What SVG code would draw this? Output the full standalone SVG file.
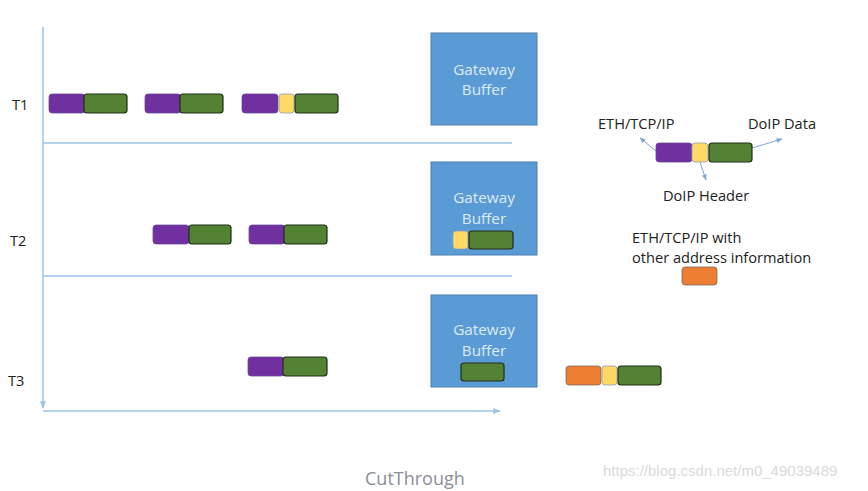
<svg xmlns="http://www.w3.org/2000/svg" width="868" height="491" viewBox="0 0 868 491">
<style>
text{font-family:"Open Sans","Noto Sans","Liberation Sans",sans-serif;}
.lbl{font-size:14.6px;fill:#222;}
.gw{font-size:15.3px;fill:#DDEBF7;text-anchor:middle;}
.box{fill:#5B9BD5;stroke:#4A7EB0;stroke-width:1;}
.p{fill:#7030A0;stroke:#6A4A9A;stroke-width:0.8;}
.g{fill:#548235;stroke:#1F2E16;stroke-width:1.2;}
.y{fill:#FFD966;stroke:#8FA0B8;stroke-width:0.8;}
.o{fill:#ED7D31;stroke:#7A6A60;stroke-width:0.8;}
.ax{stroke:#9DC3E6;stroke-width:1.5;fill:none;}
.la{stroke:#7FA7D6;stroke-width:1;fill:none;}
</style>
<defs>
<marker id="ah" viewBox="0 0 10 10" refX="9" refY="5" markerWidth="6" markerHeight="6" orient="auto">
<path d="M0,1 L10,5 L0,9 z" fill="#7FA7D6"/>
</marker>
<marker id="ah2" viewBox="0 0 10 10" refX="9" refY="5" markerWidth="5" markerHeight="5" orient="auto">
<path d="M0,1 L10,5 L0,9 z" fill="#9DC3E6"/>
</marker>
</defs>
<rect width="868" height="491" fill="#fff"/>
<g id="connectors">
<line class="ax" x1="43" y1="27" x2="43" y2="408" marker-end="url(#ah2)"/>
<line class="ax" x1="43" y1="411" x2="500" y2="411" marker-end="url(#ah2)"/>
<line class="ax" x1="43" y1="143" x2="512" y2="143"/>
<line class="ax" x1="43" y1="276" x2="512" y2="276"/>
<line class="la" x1="656" y1="151" x2="640" y2="138" marker-end="url(#ah)"/>
<line class="la" x1="700" y1="162" x2="706" y2="180" marker-end="url(#ah)"/>
<line class="la" x1="752" y1="148" x2="782" y2="139" marker-end="url(#ah)"/>
</g>
<g id="labels-time">
<text class="lbl" x="12" y="110">T1</text>
<text class="lbl" x="10" y="246">T2</text>
<text class="lbl" x="8" y="386">T3</text>
</g>
<g id="gateway1">
<rect class="box" x="431" y="33" width="106" height="92"/>
<text class="gw" x="484" y="75">Gateway</text>
<text class="gw" x="484" y="95">Buffer</text>
</g>
<g id="gateway2">
<rect class="box" x="431" y="162" width="106" height="93"/>
<text class="gw" x="484" y="203">Gateway</text>
<text class="gw" x="484" y="224">Buffer</text>
<rect class="y" x="453" y="231" width="15" height="18" rx="3"/>
<rect class="g" x="469" y="231" width="44" height="18" rx="3"/>
</g>
<g id="gateway3">
<rect class="box" x="431" y="295" width="106" height="92"/>
<text class="gw" x="484" y="335">Gateway</text>
<text class="gw" x="484" y="356">Buffer</text>
<rect class="g" x="461" y="363" width="43" height="18" rx="3"/>
</g>
<g id="t1-packet1">
<rect class="p" x="49" y="94" width="36" height="19" rx="3"/>
<rect class="g" x="84" y="94" width="43" height="19" rx="3"/>
</g>
<g id="t1-packet2">
<rect class="p" x="145" y="94" width="36" height="19" rx="3"/>
<rect class="g" x="180" y="94" width="43" height="19" rx="3"/>
</g>
<g id="t1-packet3">
<rect class="p" x="242" y="94" width="36" height="19" rx="3"/>
<rect class="y" x="279" y="94" width="15" height="19" rx="3"/>
<rect class="g" x="295" y="94" width="43" height="19" rx="3"/>
</g>
<g id="t2-packet1">
<rect class="p" x="153" y="225" width="36" height="19" rx="3"/>
<rect class="g" x="189" y="225" width="42" height="19" rx="3"/>
</g>
<g id="t2-packet2">
<rect class="p" x="249" y="225" width="36" height="19" rx="3"/>
<rect class="g" x="284" y="225" width="43" height="19" rx="3"/>
</g>
<g id="t3-packet1">
<rect class="p" x="248" y="357" width="36" height="19" rx="3"/>
<rect class="g" x="283" y="357" width="44" height="19" rx="3"/>
</g>
<g id="t3-packet2">
<rect class="o" x="566" y="366" width="35" height="19" rx="3"/>
<rect class="y" x="602" y="366" width="15" height="19" rx="3"/>
<rect class="g" x="618" y="366" width="43" height="19" rx="3"/>
</g>
<g id="legend">
<rect class="p" x="656" y="143" width="36" height="19" rx="3"/>
<rect class="y" x="692" y="143" width="16" height="19" rx="3"/>
<rect class="g" x="709" y="143" width="43" height="19" rx="3"/>
<text class="lbl" x="598" y="129">ETH/TCP/IP</text>
<text class="lbl" x="748" y="129">DoIP Data</text>
<text class="lbl" x="663" y="201">DoIP Header</text>
</g>
<g id="legend-other">
<text class="lbl" x="632" y="243">ETH/TCP/IP with</text>
<text class="lbl" x="632" y="263">other address information</text>
<rect class="o" x="682" y="267" width="35" height="18" rx="3"/>
</g>
<g id="caption">
<text x="365" y="485" style="font-size:18px;fill:#8A8F98;">CutThrough</text>
<text x="603" y="476" style="font-family:'Liberation Sans',Arial,sans-serif;font-size:15px;fill:#DADADA;">https://blog.csdn.net/m0_49039489</text>
</g>
</svg>
